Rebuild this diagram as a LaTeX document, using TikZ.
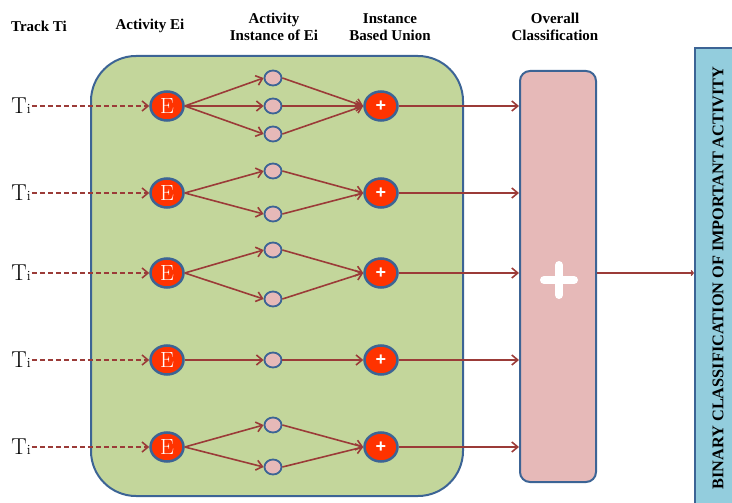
\documentclass[tikz,border=0pt]{standalone}
\usepackage{fontspec}
\usetikzlibrary{arrows.meta,shapes.geometric}
\newfontfamily\tnr{Liberation Serif}
\newfontfamily\lsans{Liberation Sans}
\definecolor{grn}{HTML}{C3D69B}
\definecolor{bdr}{HTML}{3C6495}
\definecolor{arr}{HTML}{9B3B38}
\definecolor{eor}{HTML}{FF3300}
\definecolor{pnk}{HTML}{E6B9B8}
\definecolor{blu}{HTML}{93CDDD}
\begin{document}
\begin{tikzpicture}[x=1pt,y=-1pt,
  hdr/.style={font=\tnr\bfseries\fontsize{15}{17}\selectfont, align=center, inner sep=0pt},
  tlab/.style={font=\fontsize{23}{23}\selectfont, inner sep=1pt},
  evt/.style={ellipse, draw=bdr, fill=eor, line width=2.5pt, minimum width=33pt, minimum height=29pt, inner sep=0pt, text=white, font=\fontsize{22}{22}\selectfont},
  inst/.style={ellipse, draw=bdr, fill=pnk, line width=1.8pt, minimum width=17pt, minimum height=15pt, inner sep=0pt},
  uni/.style={ellipse, draw=bdr, fill=eor, line width=2.5pt, minimum width=33pt, minimum height=29pt, inner sep=0pt, text=white, font=\lsans\bfseries\fontsize{18}{18}\selectfont},
  flow/.style={draw=arr, line width=1.6pt, -{Straight Barb[length=6pt,width=10pt]}},
  dflow/.style={flow, dash pattern=on 5pt off 3pt},
  panel/.style={draw=bdr, line width=2pt, inner sep=0pt}
]
\useasboundingbox (0,0) rectangle (732,503);

% headers
\node[hdr] (h1) at (39,26) {Track Ti};
\node[hdr] (h2) at (150,26) {Activity Ei};
\node[hdr] (h3) at (274,27) {Activity\\Instance of Ei};
\node[hdr] (h4) at (390,27) {Instance\\Based Union};
\node[hdr] (h5) at (555,27) {Overall\\Classification};

% panels
\node[panel, fill=grn, rounded corners=45pt, minimum width=372pt, minimum height=440pt] (grp) at (277,276) {};
\node[panel, fill=pnk, rounded corners=10pt, minimum width=76pt, minimum height=411pt] (ov) at (558,276.5) {};
\node[panel, fill=blu, minimum width=50pt, minimum height=465pt] (bin) at (720,281) {};
\node[rotate=90, font=\tnr\bfseries\fontsize{16.3}{16.3}\selectfont, inner sep=0pt] (bint) at (718,278) {BINARY CLASSIFICATION OF IMPORTANT ACTIVITY};
\draw[white, line width=8pt, line cap=round] (544,280) -- (574,280) (559,265) -- (559,295);

% rows
\foreach \r/\y in {1/106,2/193,3/273,4/360,5/447}{
  \node[tlab] (t\r) at (21,\y) {T\fontsize{14}{14}\selectfont i};
  \node[evt] (e\r) at (167,\y) {E};
  \node[uni] (u\r) at (381,\y) {+};
  \draw[dflow] (t\r.east) -- (e\r.west);
  \draw[flow] (u\r.east) -- (u\r -| ov.west);
}

% instances
\node[inst] (i1a) at (273,78) {};
\node[inst] (i1b) at (273,106) {};
\node[inst] (i1c) at (273,134) {};
\node[inst] (i2a) at (273,171) {};
\node[inst] (i2b) at (273,214) {};
\node[inst] (i3a) at (273,250) {};
\node[inst] (i3b) at (273,299) {};
\node[inst] (i4a) at (273,360) {};
\node[inst] (i5a) at (273,425) {};
\node[inst] (i5b) at (273,467) {};

\foreach \r/\i in {1/i1a,1/i1b,1/i1c,2/i2a,2/i2b,3/i3a,3/i3b,4/i4a,5/i5a,5/i5b}{
  \draw[flow] (e\r.east) -- (\i.west);
  \draw[flow] (\i.east) -- (u\r.west);
}

\draw[draw=arr, line width=1.3pt, -{Straight Barb[length=2pt,width=5pt]}] (ov.east |- u3) -- (bin.west |- u3);
\end{tikzpicture}
\end{document}
